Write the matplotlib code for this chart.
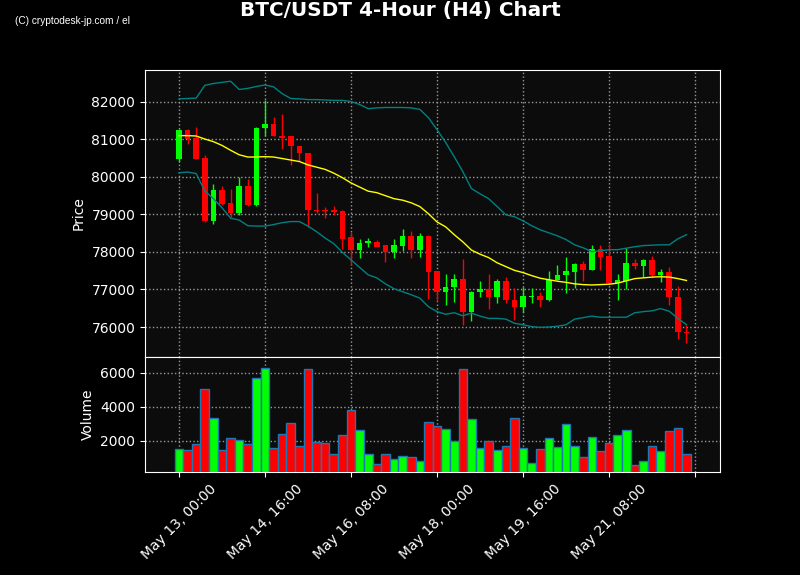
import matplotlib
matplotlib.use('Agg')
import matplotlib.pyplot as plt
import numpy as np
import pandas as pd

# 4-hour candles, May 13 00:00 onwards
dates = pd.date_range('2025-05-13 00:00', periods=60, freq='4h')

opens = [80490, 81260, 81050, 80510, 78820, 79660, 79300, 79030, 79760, 79240,
         81300, 81420, 81080, 81080, 80820, 80640, 79130, 79110, 79110, 79100,
         78390, 78060, 78230, 78270, 78180, 78010, 78170, 78430, 78040, 78430,
         77480, 76920, 77070, 77290, 76390, 76920, 77020, 76790, 77230, 76730,
         76530, 76810, 76830, 76710, 77260, 77380, 77460, 77690, 77530, 78090,
         77890, 77170, 77230, 77710, 77620, 77790, 77390, 77460, 76800, 75870]
highs = [81280, 81270, 81330, 80580, 79810, 79750, 79680, 80000, 79950, 81330,
         82060, 81600, 81680, 81100, 80830, 80650, 79570, 79200, 79220, 79120,
         78530, 78350, 78370, 78320, 78180, 78340, 78610, 78550, 78510, 78450,
         77490, 77420, 77420, 77810, 76950, 77230, 77410, 77280, 77320, 77040,
         77070, 77040, 76920, 77480, 77650, 77870, 77710, 77760, 78190, 78190,
         78220, 77420, 78110, 77810, 77810, 77900, 77550, 77600, 77080, 76060]
lows = [80410, 80880, 80480, 78800, 78750, 79240, 78920, 78990, 79220, 79220,
        81080, 81080, 80750, 80330, 80420, 78670, 79050, 78900, 78980, 78090,
        77660, 77840, 78130, 78120, 77730, 77840, 78030, 77840, 77870, 76740,
        76680, 76590, 76670, 76060, 76150, 76800, 76480, 76640, 76640, 76180,
        76390, 76640, 76530, 76700, 77250, 76910, 77040, 77220, 77520, 77530,
        77170, 76710, 77010, 77550, 77330, 77330, 77190, 76590, 75680, 75570]
closes = [81260, 81020, 80490, 78820, 79660, 79290, 79030, 79760, 79240, 81310,
          81420, 81080, 81050, 80820, 80640, 79130, 79100, 79080, 79060, 78350,
          78060, 78240, 78280, 78140, 78010, 78190, 78430, 78040, 78430, 77460,
          76920, 77070, 77290, 76390, 76940, 77020, 76790, 77230, 76720, 76530,
          76830, 76830, 76710, 77260, 77390, 77480, 77690, 77530, 78090, 77870,
          77170, 77260, 77710, 77620, 77790, 77390, 77460, 76790, 75860, 75830]
volumes = [1530, 1470, 1820, 5060, 3360, 1470, 2180, 2060, 1820, 5710,
           6300, 1590, 2410, 3060, 1710, 6240, 1940, 1880, 1230, 2350,
           3830, 2650, 1230, 650, 1230, 940, 1120, 1060, 820, 3120,
           2880, 2710, 2000, 6240, 3300, 1590, 2000, 1470, 1710, 3360,
           1590, 700, 1530, 2180, 1650, 3000, 1710, 1060, 2240, 1410,
           1880, 2350, 2650, 590, 820, 1710, 1410, 2590, 2770, 1230]

# moving average and bollinger bands
sma = [81100, 81100, 81090, 81010, 80940, 80840, 80710, 80590, 80530, 80530,
       80540, 80530, 80490, 80450, 80410, 80320, 80260, 80200, 80100, 79980,
       79840, 79730, 79620, 79580, 79500, 79420, 79380, 79310, 79210, 79020,
       78800, 78670, 78460, 78270, 78050, 77940, 77850, 77710, 77610, 77510,
       77450, 77370, 77300, 77260, 77220, 77190, 77150, 77130, 77120, 77130,
       77140, 77170, 77230, 77290, 77310, 77330, 77340, 77330, 77290, 77240]
upper = [82080, 82090, 82100, 82440, 82490, 82520, 82550, 82330, 82360, 82410,
         82450, 82400, 82220, 82090, 82080, 82060, 82060, 82050, 82040, 82040,
         82010, 81930, 81820, 81840, 81850, 81850, 81850, 81840, 81800, 81580,
         81260, 80920, 80540, 80140, 79690, 79550, 79420, 79210, 78990, 78940,
         78830, 78700, 78590, 78510, 78430, 78330, 78190, 78110, 78010, 78030,
         78060, 78060, 78100, 78140, 78170, 78180, 78190, 78190, 78350, 78460]
lower = [80110, 80130, 80090, 79630, 79420, 79180, 78900, 78850, 78700, 78690,
         78690, 78730, 78780, 78810, 78810, 78690, 78540, 78370, 78220, 77990,
         77790, 77590, 77390, 77310, 77150, 77020, 76940, 76860, 76770, 76540,
         76410, 76340, 76380, 76300, 76370, 76290, 76230, 76230, 76210, 76100,
         76060, 76010, 75990, 76000, 76020, 76060, 76210, 76250, 76290, 76260,
         76260, 76260, 76260, 76380, 76410, 76430, 76490, 76420, 76230, 76060]

x = np.arange(len(dates))
o = np.array(opens)
c = np.array(closes)
up = c >= o
colors = np.where(up, '#00ff00', '#ff0000')

fig = plt.figure(figsize=(8, 5.75), dpi=100, facecolor='black')
ax1 = fig.add_axes([0.18125, 0.3791, 0.71875, 0.4992])
ax2 = fig.add_axes([0.18125, 0.1791, 0.71875, 0.2], sharex=ax1)

for ax in (ax1, ax2):
    ax.set_facecolor('#0c0c0c')
    ax.grid(True, color='#999999', linestyle=':', linewidth=1)
    ax.set_axisbelow(True)
    ax.tick_params(colors='white', labelsize=10)
    for s in ax.spines.values():
        s.set_color('white')

# candles
ax1.vlines(x, lows, highs, colors=colors, linewidth=1, zorder=2)
ax1.bar(x, np.abs(c - o), bottom=np.minimum(o, c), width=0.65, color=colors, zorder=3)
ax1.plot(x, sma, color='yellow', linewidth=1, zorder=4)
ax1.plot(x, upper, color='#008080', linewidth=1, zorder=4)
ax1.plot(x, lower, color='#008080', linewidth=1, zorder=4)
ax1.set_ylim(75200, 82850)
ax1.set_ylabel('Price', color='white', fontsize=10)
plt.setp(ax1.get_xticklabels(), visible=False)

# volume
ax2.bar(x, volumes, width=1.0, color=colors, edgecolor='#1f77b4', linewidth=1, zorder=3)
vol = np.array(volumes)
ax2.set_ylim(vol.min() * 0.3, vol.max() * 1.1)
ax2.set_yticks([2000, 4000, 6000])
ax2.set_ylabel('Volume', color='white', fontsize=10)

ticks = list(range(0, 61, 10))
labels = [dates[i].strftime('%b %d, %H:%M') for i in ticks if i < len(dates)]
labels += [''] * (len(ticks) - len(labels))
ax2.set_xticks(ticks)
ax2.set_xticklabels(labels, rotation=45)
ax2.set_xlim(-3.95, 62.9)

fig.suptitle('BTC/USDT 4-Hour (H4) Chart', color='white', fontsize=14.4,
             fontweight='bold', y=0.981, va='center')
fig.text(0.019, 0.963, '(C) cryptodesk-jp.com / el', color='white', fontsize=7.3,
         family='Liberation Sans', va='center')

plt.savefig('out.png', facecolor='black')
